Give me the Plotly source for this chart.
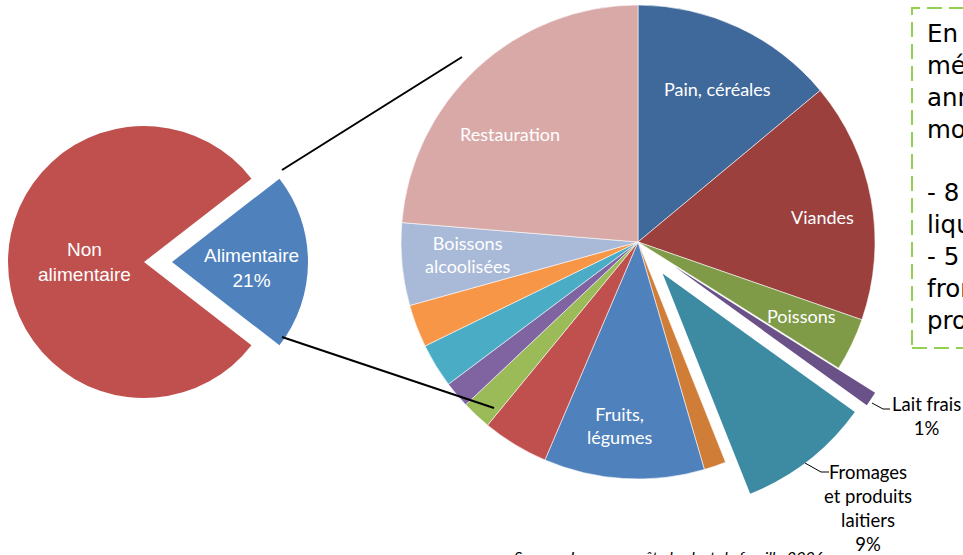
import math
import plotly.graph_objects as go

W, H = 963, 555

# ---------------- data ----------------
outer_labels = ["Alimentaire", "Non alimentaire"]
outer_values = [21, 79]
outer_colors = ["#4f81bd", "#c0504d"]

food_labels = [
    "Pain, céréales", "Viandes", "Poissons", "Lait frais",
    "Fromages et produits laitiers", "Œufs", "Fruits, légumes",
    "Sucre, confiseries", "Huiles, graisses", "Café, thé, cacao",
    "Plats préparés", "Boissons non alcoolisées", "Boissons alcoolisées",
    "Restauration",
]
food_values = [13.9, 16.3, 3.6, 1.0, 9.0, 1.5, 10.9, 4.5, 2.0, 1.8, 3.0, 2.9, 5.6, 23.6]
food_colors = [
    "#40699b", "#9c403e", "#7f9b48", "#6a5289", "#3d8ba3", "#d07d38",
    "#4f81bd", "#c0504d", "#9bbb59", "#8064a2", "#4bacc6", "#f79646",
    "#a9b9d8", "#d9a9a8",
]

# display text for labelled slices
inside_text = {
    "Pain, céréales": "Pain, céréales",
    "Viandes": "Viandes",
    "Poissons": "Poissons",
    "Fruits, légumes": "Fruits,<br>légumes",
    "Boissons alcoolisées": "Boissons<br>alcoolisées",
    "Restauration": "Restauration",
}
outside_text = {
    "Lait frais": "Lait frais<br>1%",
    "Fromages et produits laitiers": "Fromages<br>et produits<br>laitiers<br>9%",
}

note_lines = [
    "En 2006, un ménage", "ménage a dépensé", "annuellement en", "moyenne :", "",
    "- 8 % pour le lait", "liquide", "- 5 % pour les", "fromages et", "produits laitiers",
]
caption = "Source : Insee, enquête budget de famille 2006"

# ---------------- layout geometry (pixels) ----------------
L_CX, L_CY, L_R, L_EXPLODE = 144, 262, 136, 28
R_CX, R_CY, R_R = 638, 242, 237
explode_px = {"Lait frais": 44, "Fromages et produits laitiers": 40}

inside_pos = {
    "Pain, céréales": (717, 89),
    "Viandes": (822, 217),
    "Poissons": (801, 316),
    "Fruits, légumes": (619, 425),
    "Boissons alcoolisées": (467, 255),
    "Restauration": (510, 134),
}
outside_pos = {
    "Lait frais": (926, 416),
    "Fromages et produits laitiers": (868, 508),
}
leaders = {
    "Lait frais": [(872, 403), (883, 409), (890, 409)],
    "Fromages et produits laitiers": [(805, 463), (821, 472), (829, 472)],
}


def px(x):
    return x / W


def py(y):
    return 1 - y / H


def dom(cx, cy, r):
    return dict(x=[px(cx - r), px(cx + r)], y=[py(cy + r), py(cy - r)])


def mid_angle(values, idx, rotation=0.0):
    tot = sum(values)
    start = sum(values[:idx])
    return math.radians(rotation + (start + values[idx] / 2) / tot * 360)


TRANSP = "rgba(0,0,0,0)"
fig = go.Figure()

# ---------------- left pie ----------------
l_rot = -outer_values[0] / sum(outer_values) * 360 / 2 + 90
fig.add_trace(go.Pie(
    labels=outer_labels, values=outer_values, sort=False, direction="clockwise",
    rotation=l_rot, domain=dom(L_CX, L_CY, L_R),
    marker=dict(colors=[TRANSP, outer_colors[1]], line=dict(width=0)),
    textinfo="none", hoverinfo="label+percent", showlegend=False,
))
a = mid_angle(outer_values, 0, l_rot)
fig.add_trace(go.Pie(
    labels=outer_labels, values=outer_values, sort=False, direction="clockwise",
    rotation=l_rot,
    domain=dom(L_CX + L_EXPLODE * math.sin(a), L_CY - L_EXPLODE * math.cos(a), L_R),
    marker=dict(colors=[outer_colors[0], TRANSP], line=dict(width=0)),
    textinfo="none", hoverinfo="skip", showlegend=False,
))

# ---------------- right pie ----------------
main_colors = [TRANSP if lab in explode_px else c for lab, c in zip(food_labels, food_colors)]
main_lw = [0 if lab in explode_px else 0.8 for lab in food_labels]
fig.add_trace(go.Pie(
    labels=food_labels, values=food_values, sort=False, direction="clockwise",
    rotation=0, domain=dom(R_CX, R_CY, R_R),
    marker=dict(colors=main_colors, line=dict(color="rgba(255,255,255,0.7)", width=main_lw)),
    textinfo="none", hoverinfo="label+percent", showlegend=False,
))
for lab, d in explode_px.items():
    i = food_labels.index(lab)
    a = mid_angle(food_values, i)
    cols = [food_colors[j] if j == i else TRANSP for j in range(len(food_labels))]
    fig.add_trace(go.Pie(
        labels=food_labels, values=food_values, sort=False, direction="clockwise",
        rotation=0, domain=dom(R_CX + d * math.sin(a), R_CY - d * math.cos(a), R_R),
        marker=dict(colors=cols, line=dict(width=0)),
        textinfo="none", hoverinfo="skip", showlegend=False,
    ))

annotations = []
shapes = []


def label(x, y, text, font, **kw):
    d = dict(x=px(x), y=py(y), xref="paper", yref="paper", text=text,
             showarrow=False, xanchor="center", yanchor="middle", font=font)
    d.update(kw)
    annotations.append(d)


# left pie labels
lfont = dict(family="Liberation Sans", size=19, color="white")
label(84, 262, "Non<br>alimentaire", lfont)
label(251, 268, f"{outer_labels[0]}<br>{outer_values[0]}%", lfont)

# right pie inside labels
for lab, (x, y) in inside_pos.items():
    label(x, y, inside_text[lab], dict(family="Lato", size=18, color="white"))
# outside labels + leader lines
for lab, (x, y) in outside_pos.items():
    label(x, y, outside_text[lab], dict(family="Lato", size=18.5, color="black"))
    pts = leaders[lab]
    path = "M " + " L ".join(f"{px(xx)},{py(yy)}" for xx, yy in pts)
    shapes.append(dict(type="path", xref="paper", yref="paper", path=path,
                       line=dict(color="black", width=1)))

# zoom connector lines
for (x0, y0), (x1, y1) in [((282, 170), (462, 57)), ((282, 337), (494, 408))]:
    shapes.append(dict(type="line", xref="paper", yref="paper",
                       x0=px(x0), y0=py(y0), x1=px(x1), y1=py(y1),
                       line=dict(color="black", width=2)))

# note box on the right (cut by the page edge, as in the reference)
shapes.append(dict(type="rect", xref="paper", yref="paper",
                   x0=px(912), y0=py(348), x1=px(1010), y1=py(8),
                   line=dict(color="#92d050", width=2, dash="15px,7px")))
label(925, 17, "<br>".join(note_lines),
      dict(family="DejaVu Sans", size=24.5, color="black"),
      xanchor="left", yanchor="top", align="left")

# caption at the bottom (cut by the page edge, as in the reference)
label(669, 545, f"<i>{caption}</i>", dict(family="Lato", size=16, color="black"),
      yanchor="top")

fig.update_layout(
    width=W, height=H, autosize=False,
    margin=dict(l=0, r=0, t=0, b=0),
    paper_bgcolor="white", plot_bgcolor="white",
    annotations=annotations, shapes=shapes, showlegend=False,
)

fig.write_html("out.html")
